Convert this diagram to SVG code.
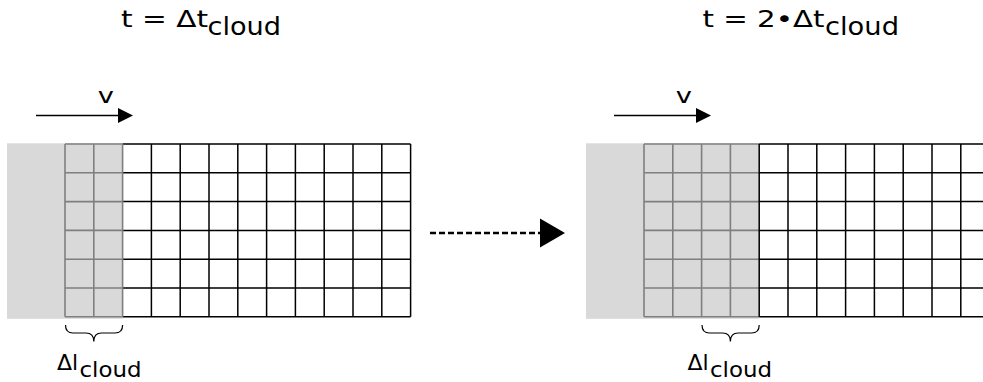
<svg xmlns="http://www.w3.org/2000/svg" width="983" height="382" viewBox="0 0 983 382">
<style>
  .txt { font-family: "DejaVu Sans", Verdana, sans-serif; fill: #000; }
  .title { font-size: 22.5px; }
  .sub { font-size: 25px; }
  .lbl { font-size: 22px; }
  .lsub { font-size: 22px; }
  .v { font-size: 21px; }
  .bgfill { fill: #d9d9d9; stroke: none; }
  .gline { fill: none; stroke: #7f7f7f; stroke-width: 1.6; }
  .bline { fill: none; stroke: #000; stroke-width: 1.5; }
  .brace { fill: none; stroke: #000; stroke-width: 1.2; }
  .arr { stroke: #000; stroke-width: 1.5; }
  .dash { stroke: #000; stroke-width: 2.5; stroke-dasharray: 6 3; }
</style>
<rect width="983" height="382" fill="#fff"/>

<g id="title-left">
  <text class="txt title" x="121" y="27" textLength="87" lengthAdjust="spacingAndGlyphs">t = Δt</text>
  <text class="txt sub" x="207.5" y="34.5" textLength="73.5" lengthAdjust="spacingAndGlyphs">cloud</text>
</g>
<g id="title-right">
  <text class="txt title" x="702.5" y="27" textLength="122" lengthAdjust="spacingAndGlyphs">t = 2•Δt</text>
  <text class="txt sub" x="825" y="34.5" textLength="74" lengthAdjust="spacingAndGlyphs">cloud</text>
</g>

<g id="grid-left">
  <rect class="bgfill" x="7" y="143.3" width="115.6" height="175.5"/>
  <path class="bline" d="M122.6,144H410.6M122.6,172.8H410.6M122.6,201.6H410.6M122.6,230.4H410.6M122.6,259.2H410.6M122.6,288H410.6M122.6,316.8H410.6
    M151.4,144V316.8M180.2,144V316.8M209,144V316.8M237.8,144V316.8M266.6,144V316.8M295.4,144V316.8M324.2,144V316.8M353,144V316.8M381.8,144V316.8M410.6,144V316.8"/>
  <path class="gline" d="M65,144H122.6M65,172.8H122.6M65,201.6H122.6M65,230.4H122.6M65,259.2H122.6M65,288H122.6M65,316.8H122.6
    M65,144V316.8M93.8,144V316.8M122.6,144V316.8"/>
</g>

<g id="grid-right">
  <rect class="bgfill" x="586" y="143.3" width="173.2" height="175.5"/>
  <path class="gline" d="M644,144H759.2M644,172.8H759.2M644,201.6H759.2M644,230.4H759.2M644,259.2H759.2M644,288H759.2M644,316.8H759.2
    M644,144V316.8M672.8,144V316.8M701.6,144V316.8M730.4,144V316.8"/>
  <path class="bline" d="M759.2,144H990M759.2,172.8H990M759.2,201.6H990M759.2,230.4H990M759.2,259.2H990M759.2,288H990M759.2,316.8H990
    M759.2,144V316.8M788,144V316.8M816.8,144V316.8M845.6,144V316.8M874.4,144V316.8M903.2,144V316.8M932,144V316.8M960.8,144V316.8"/>
</g>

<g id="velocity-left">
  <line class="arr" x1="36" y1="115.5" x2="119" y2="115.5"/>
  <polygon points="118,108 133,115.5 118,123" fill="#000"/>
  <text class="txt v" x="105.8" y="103.3" text-anchor="middle" transform="translate(105.8,0) scale(1.3,1) translate(-105.8,0)">v</text>
</g>
<g id="velocity-right">
  <line class="arr" x1="614" y1="115.5" x2="697" y2="115.5"/>
  <polygon points="696,108 711,115.5 696,123" fill="#000"/>
  <text class="txt v" x="683.8" y="103.3" text-anchor="middle" transform="translate(683.8,0) scale(1.3,1) translate(-683.8,0)">v</text>
</g>

<g id="brace-left">
  <path class="brace" d="M65.5,325 Q65.5,333 73,333 H86 Q93.8,333 93.8,341.5 Q93.8,333 101.6,333 H115 Q122.6,333 122.6,325"/>
  <text class="txt lbl" x="57" y="370">Δl</text>
  <text class="txt lsub" x="79.5" y="376.5" textLength="62" lengthAdjust="spacingAndGlyphs">cloud</text>
</g>
<g id="brace-right">
  <path class="brace" d="M702,325 Q702,333 709.5,333 H722.6 Q730.4,333 730.4,341.5 Q730.4,333 738.2,333 H751.6 Q759.2,333 759.2,325"/>
  <text class="txt lbl" x="687.5" y="370">Δl</text>
  <text class="txt lsub" x="710" y="376.5" textLength="62" lengthAdjust="spacingAndGlyphs">cloud</text>
</g>

<g id="connectors">
  <line class="dash" x1="430" y1="233" x2="541" y2="233"/>
  <polygon points="540,218.5 565,233 540,247.5" fill="#000"/>
</g>
</svg>
